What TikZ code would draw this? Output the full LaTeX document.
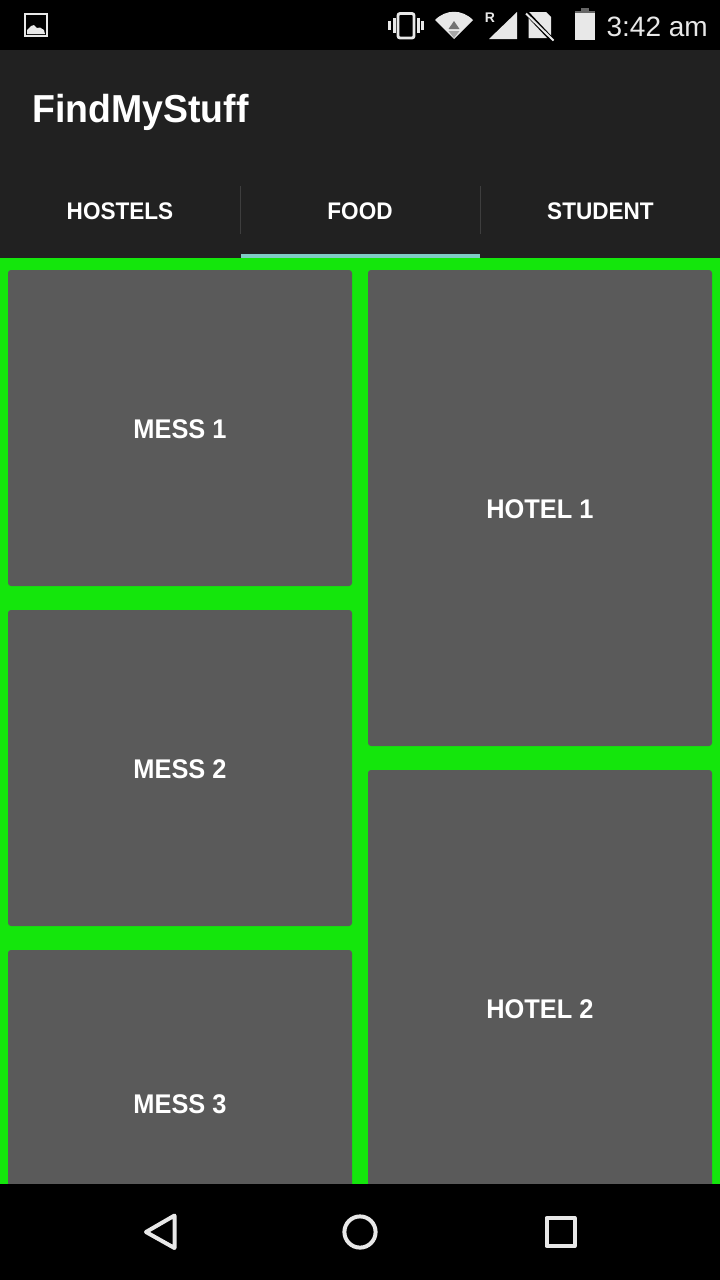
\documentclass[tikz,border=0pt]{standalone}
\usepackage{fontspec}
\setmainfont{Liberation Sans}
\newfontfamily\titlefont{Liberation Sans}[FakeStretch=0.96]
\newfontfamily\condfont{Liberation Sans}[FakeStretch=0.94]
\definecolor{barbg}{HTML}{212121}
\definecolor{gridgreen}{HTML}{14E60C}
\definecolor{cardgrey}{HTML}{5A5A5A}
\definecolor{accentline}{HTML}{80CBC4}
\definecolor{iconwhite}{HTML}{E8E8E8}
\definecolor{divider}{HTML}{3E3E3E}
\tikzset{
  card/.style={fill=cardgrey,rounded corners=3pt,draw=none},
  cardlabel/.style={text=white,font=\condfont\bfseries\fontsize{27}{30}\selectfont,inner sep=0pt,anchor=center},
  tablabel/.style={text=white,font=\condfont\bfseries\fontsize{24}{28}\selectfont,inner sep=0pt,anchor=center},
  navicon/.style={draw=iconwhite,line width=4pt,line join=round},
  solidicon/.style={fill=iconwhite,draw=none},
}
\begin{document}
\begin{tikzpicture}[x=1pt,y=-1pt]
\useasboundingbox (0,0) rectangle (720,1280);
\fill[black] (0,0) rectangle (720,50);
\fill[barbg] (0,50) rectangle (720,258);
\fill[gridgreen] (0,258) rectangle (720,1184);
% tabs
\draw[divider,line width=1pt] (240.5,186) -- (240.5,234);
\draw[divider,line width=1pt] (480.5,186) -- (480.5,234);
\fill[accentline] (241,254) rectangle (480,258);
\node[text=white,font=\titlefont\bfseries\fontsize{39}{44}\selectfont,inner sep=0pt,anchor=base west] (title) at (32,122) {FindMyStuff};
\node[tablabel] (t1) at (120,211) {HOSTELS};
\node[tablabel] (t2) at (360,211) {FOOD};
\node[tablabel] (t3) at (600.5,211) {STUDENT};
% cards
\fill[card] (8,270) rectangle (352,586);
\fill[card] (8,610) rectangle (352,926);
\fill[card] (8,950) rectangle (352,1200);
\fill[card] (368,270) rectangle (712,746);
\fill[card] (368,770) rectangle (712,1200);
\node[cardlabel] (m1) at (180,429.5) {MESS 1};
\node[cardlabel] (m2) at (180,769.5) {MESS 2};
\node[cardlabel] (m3) at (180,1104.5) {MESS 3};
\node[cardlabel] (h1) at (540,509.5) {HOTEL 1};
\node[cardlabel] (h2) at (540,1009.5) {HOTEL 2};
% nav bar
\fill[black] (0,1184) rectangle (720,1280);
\draw[navicon] (174.5,1215.5) -- (174.5,1248) -- (146,1232) -- cycle;
\draw[navicon] (360,1232) circle (15.6);
\draw[navicon] (546.5,1218) rectangle (574.5,1246);
% status bar: image icon
\draw[draw=iconwhite,line width=1.6pt] (25,14) rectangle (47,36);
\fill[iconwhite] (27,34) -- (27,30) -- (31,26) -- (34,25) -- (37,28) -- (40,27.5) -- (44,30) -- (45,34) -- cycle;
% vibrate icon
\draw[draw=iconwhite,line width=2.8pt,rounded corners=2pt] (398,13.5) rectangle (414,38);
\fill[iconwhite] (392.5,18) rectangle (395.5,33);
\fill[iconwhite] (388,21) rectangle (391,30);
\fill[iconwhite] (416.5,18) rectangle (419.5,33);
\fill[iconwhite] (421,21) rectangle (424,30);
% wifi
\fill[solidicon] (435,20) .. controls (446,9) and (462,9) .. (473,20) -- (454,39) -- cycle;
\fill[black!55!white] (454,21) -- (459.5,29) -- (448.5,29) -- cycle;
\fill[black!35!white] (448.5,31) -- (459.5,31) -- (454,38) -- cycle;
% signal
\node[text=iconwhite,font=\bfseries\fontsize{14}{15}\selectfont,inner sep=0pt] (roam) at (490,18) {R};
\fill[solidicon] (517,12) -- (517,39) -- (489,39) -- cycle;
% no sim
\fill[solidicon] (528.5,12) -- (546,12) -- (551,17) -- (551,38) -- (528.5,38) -- cycle;
\draw[black,line width=4.5pt] (523,9) -- (555,43);
\draw[iconwhite,line width=2pt] (526,13.5) -- (553.5,40.5);
% battery
\fill[solidicon] (575,13) rectangle (595,39.5);
\fill[black!60!white] (575,10.5) rectangle (595,13);
\fill[black!60!white] (581,8) rectangle (589,10.5);
\node[text=iconwhite,font=\fontsize{28}{30}\selectfont,inner sep=0pt,anchor=base east] (clock) at (708,36) {3:42 am};
\end{tikzpicture}
\end{document}
